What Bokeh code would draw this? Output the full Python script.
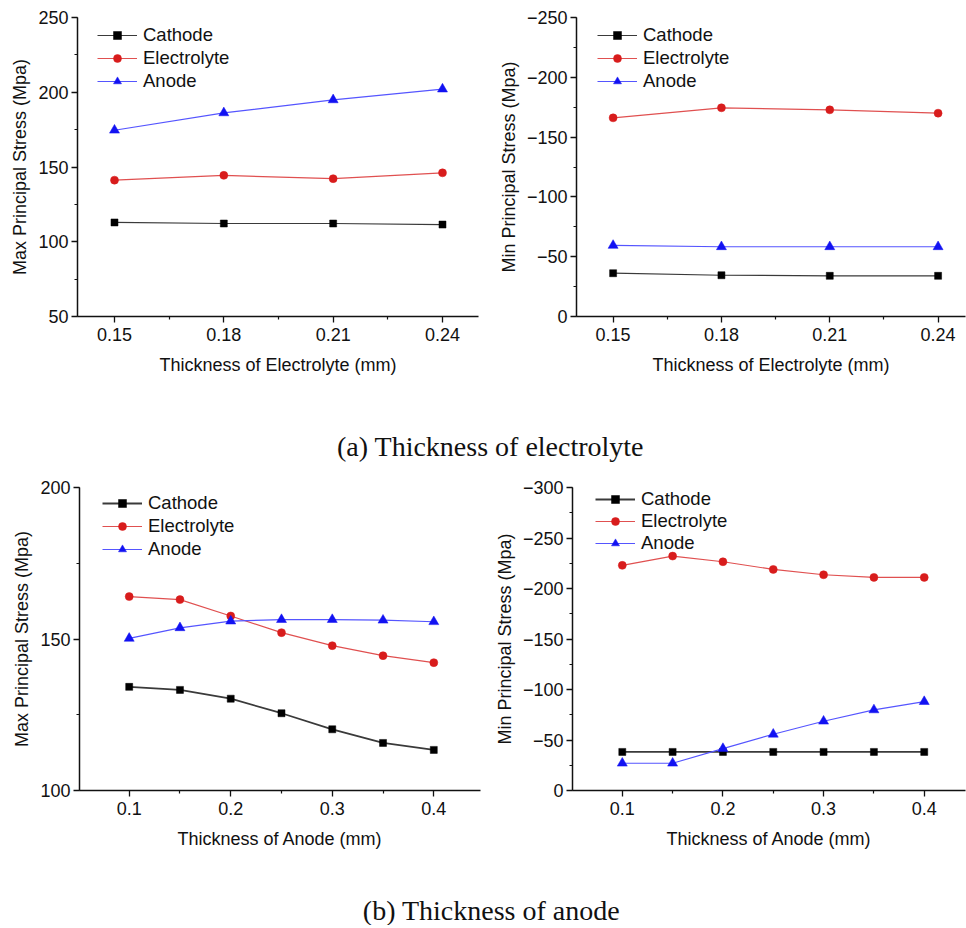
from bokeh.plotting import figure
from bokeh.models import (Range1d, FixedTicker, SingleIntervalTicker, PrintfTickFormatter,
                          Legend, LegendItem, Label)
from bokeh.layouts import column, row
from bokeh.embed import file_html
from bokeh.resources import INLINE

# ---------------- data ----------------
series_names = ["Cathode", "Electrolyte", "Anode"]

elec_thickness = [0.15, 0.18, 0.21, 0.24]
elec_ticks = [0.15, 0.18, 0.21, 0.24]
elec_minor = [0.165, 0.195, 0.225]
a_max_cathode = [112.9, 112.2, 112.2, 111.5]
a_max_electrolyte = [141.2, 144.4, 142.2, 146.1]
a_max_anode = [174.6, 186.2, 194.9, 202.1]
a_min_cathode = [-36.2, -34.5, -34.0, -34.0]
a_min_electrolyte = [-166.1, -174.5, -172.8, -170.0]
a_min_anode = [-59.4, -58.3, -58.3, -58.3]

anode_thickness = [0.10, 0.15, 0.20, 0.25, 0.30, 0.35, 0.40]
anode_ticks = [0.1, 0.2, 0.3, 0.4]
anode_minor = [0.15, 0.25, 0.35]
b_max_cathode = [134.2, 133.2, 130.3, 125.5, 120.2, 115.7, 113.4]
b_max_electrolyte = [164.0, 163.0, 157.6, 152.1, 147.8, 144.5, 142.2]
b_max_anode = [150.2, 153.7, 155.9, 156.4, 156.4, 156.2, 155.7]
b_min_cathode = [-38.2, -38.2, -38.2, -38.2, -38.2, -38.2, -38.2]
b_min_electrolyte = [-222.9, -232.1, -226.5, -218.9, -213.6, -211.0, -211.0]
b_min_anode = [-27.0, -27.0, -41.5, -55.7, -68.6, -79.8, -88.0]

caption_a = "(a) Thickness of electrolyte"
caption_b = "(b) Thickness of anode"

# ---------------- styles ----------------
STYLE = {
    "Cathode": dict(line="#3a3a3a", fill="#000000", marker="square", size=7),
    "Electrolyte": dict(line="#e05050", fill="#d81c1c", marker="circle", size=8),
    "Anode": dict(line="#5555ff", fill="#1212f2", marker="triangle", size=10),
}
FONT = "Liberation Sans"
INK = "#111111"


def panel(x, ys, width, height, borders, xr, yr, ticks, minor, fmt,
          xlabel, ylabel, leg_xy, leg_spacing, cathode_width):
    left, right, top, bottom = borders
    p = figure(width=width, height=height, x_range=Range1d(*xr), y_range=Range1d(*yr),
               toolbar_location=None, output_backend="svg",
               min_border_left=left, min_border_right=right,
               min_border_top=top, min_border_bottom=bottom)
    p.outline_line_color = None
    p.xgrid.visible = False
    p.ygrid.visible = False
    items = []
    for name, y in zip(series_names, ys):
        s = STYLE[name]
        lw = cathode_width if name == "Cathode" else 1.2
        r1 = p.line(x, y, line_color=s["line"], line_width=lw)
        r2 = p.scatter(x, y, marker=s["marker"], size=s["size"],
                       fill_color=s["fill"], line_color=s["fill"], line_width=0.5)
        items.append(LegendItem(label=name, renderers=[r1, r2]))
    leg = Legend(items=items, location=leg_xy, padding=0, margin=0,
                 spacing=leg_spacing, glyph_width=40, glyph_height=20,
                 label_height=20, label_standoff=6,
                 label_text_font=FONT, label_text_font_size="18.5px",
                 label_text_color=INK, border_line_color=None,
                 background_fill_alpha=0)
    p.add_layout(leg)

    p.xaxis.ticker = FixedTicker(ticks=ticks, minor_ticks=minor)
    p.xaxis.formatter = PrintfTickFormatter(format=fmt)
    p.yaxis.ticker = SingleIntervalTicker(interval=50, num_minor_ticks=2)
    p.xaxis.axis_label = xlabel
    p.yaxis.axis_label = ylabel
    for ax in (p.xaxis, p.yaxis):
        ax.axis_line_color = INK
        ax.axis_line_width = 1.5
        ax.major_tick_line_color = INK
        ax.major_tick_line_width = 1.3
        ax.minor_tick_line_color = INK
        ax.minor_tick_line_width = 1.2
        ax.major_tick_out = 6
        ax.major_tick_in = 0
        ax.minor_tick_out = 3
        ax.minor_tick_in = 0
        ax.major_label_text_font = FONT
        ax.major_label_text_font_size = "18px"
        ax.major_label_text_color = INK
        ax.axis_label_text_font = FONT
        ax.axis_label_text_font_size = "18px"
        ax.axis_label_text_font_style = "normal"
        ax.axis_label_text_color = INK
    p.xaxis.major_label_standoff = 5
    p.xaxis.axis_label_standoff = 11
    p.yaxis.major_label_standoff = 3
    p.yaxis.axis_label_standoff = 5
    return p


def caption(text, height, cx, baseline):
    c = figure(width=966, height=height, x_range=Range1d(0, 1), y_range=Range1d(0, 1),
               toolbar_location=None, output_backend="svg", min_border=0,
               x_axis_location=None, y_axis_location=None)
    c.outline_line_color = None
    c.grid.visible = False
    c.add_layout(Label(x=cx, y=baseline, x_units="screen", y_units="screen", text=text,
                       text_font="Liberation Serif", text_font_size="28px",
                       text_color=INK, text_align="center", text_baseline="alphabetic"))
    return c


p1 = panel(elec_thickness, [a_max_cathode, a_max_electrolyte, a_max_anode],
           495, 390, (77, 17, 17, 74), (0.13985, 0.24988), (50, 250),
           elec_ticks, elec_minor, "%.2f",
           "Thickness of Electrolyte (mm)", "Max Principal Stress (Mpa)", (20, 224), 1, 1.2)
p2 = panel(elec_thickness, [a_min_cathode, a_min_electrolyte, a_min_anode],
           471, 390, (77, 1, 17, 74), (0.13986, 0.24759), (0, -250),
           elec_ticks, elec_minor, "%.2f",
           "Thickness of Electrolyte (mm)", "Min Principal Stress (Mpa)", (21, 224), 1, 1.2)
p3 = panel(anode_thickness, [b_max_cathode, b_max_electrolyte, b_max_anode],
           491, 395, (79, 11, 17, 75), (0.05105, 0.446), (100, 200),
           anode_ticks, anode_minor, "%.1f",
           "Thickness of Anode (mm)", "Max Principal Stress (Mpa)", (23, 230), 1, 1.8)
p4 = panel(anode_thickness, [b_min_cathode, b_min_electrolyte, b_min_anode],
           475, 395, (77, 1, 17, 75), (0.05053, 0.441), (0, -300),
           anode_ticks, anode_minor, "%.1f",
           "Thickness of Anode (mm)", "Min Principal Stress (Mpa)", (23, 236), 0, 1.8)

cap_a = caption(caption_a, 80, 490, 24)
cap_b = caption(caption_b, 60, 491, 15)

layout = column(row(p1, p2), cap_a, row(p3, p4), cap_b)

open("out.html", "w").write(file_html(layout, INLINE))
